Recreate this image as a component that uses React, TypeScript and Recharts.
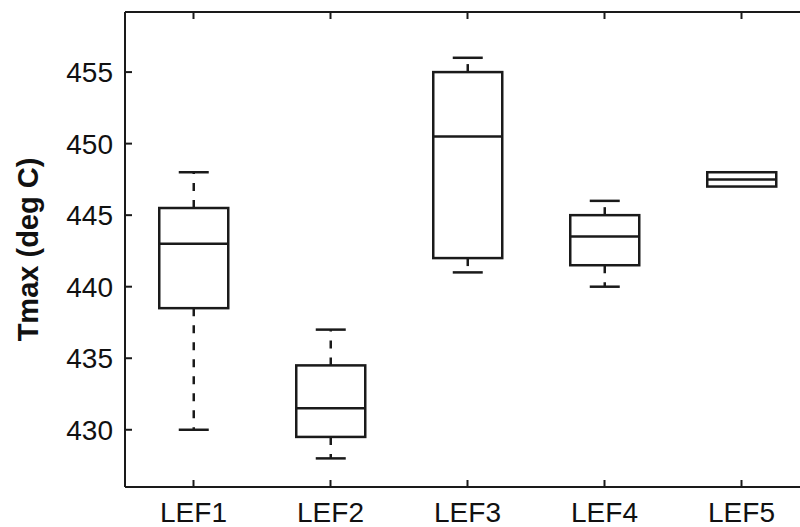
import React from 'react';
import { ComposedChart, Bar, XAxis, YAxis } from 'recharts';

const categories = ['LEF1', 'LEF2', 'LEF3', 'LEF4', 'LEF5'];
const whiskerLow = [430, 428, 441, 440, 447];
const lowerQuartile = [438.5, 429.5, 442, 441.5, 447];
const median = [443, 431.5, 450.5, 443.5, 447.5];
const upperQuartile = [445.5, 434.5, 455, 445, 448];
const whiskerHigh = [448, 437, 456, 446, 448];

const yTicks = [430, 435, 440, 445, 450, 455];
const yDomain = [426, 459.2];

const rows = categories.map((name, i) => ({
  name,
  low: whiskerLow[i],
  q1: lowerQuartile[i],
  med: median[i],
  q3: upperQuartile[i],
  high: whiskerHigh[i],
}));

const FONT = '"Liberation Sans", Arial, Helvetica, sans-serif';
const INK = '#1a1a1a';
const LW = 2.5;

// draws one box-and-whisker from the [low, high] range the Bar hands us
const BoxShape = (props: any) => {
  const { x, y, width, height, payload } = props;
  const { low, q1, med, q3, high } = payload;
  const span = high - low || 1;
  const toPx = (v: number) => y + ((high - v) / span) * height;
  const cx = x + width / 2;
  const cap = 15;
  return (
    <g>
      {high > q3 && (
        <>
          <line x1={cx} x2={cx} y1={toPx(q3)} y2={toPx(high)} stroke={INK} strokeWidth={LW} strokeDasharray="8 9" />
          <line x1={cx - cap} x2={cx + cap} y1={toPx(high)} y2={toPx(high)} stroke={INK} strokeWidth={LW} />
        </>
      )}
      {low < q1 && (
        <>
          <line x1={cx} x2={cx} y1={toPx(q1)} y2={toPx(low)} stroke={INK} strokeWidth={LW} strokeDasharray="8 9" />
          <line x1={cx - cap} x2={cx + cap} y1={toPx(low)} y2={toPx(low)} stroke={INK} strokeWidth={LW} />
        </>
      )}
      <rect x={x} y={toPx(q3)} width={width} height={toPx(q1) - toPx(q3)} fill="#fff" stroke={INK} strokeWidth={LW} />
      <line x1={x} x2={x + width} y1={toPx(med)} y2={toPx(med)} stroke={INK} strokeWidth={LW} />
    </g>
  );
};

const YLabel = (props: any) => {
  const vb = props.viewBox || { y: 12, height: 475 };
  const cy = vb.y + vb.height / 2;
  return (
    <text
      x={28}
      y={cy}
      transform={`rotate(-90, 28, ${cy})`}
      textAnchor="middle"
      dominantBaseline="central"
      fontFamily={FONT}
      fontSize={29}
      fontWeight="bold"
      fill="#111"
    >
      Tmax (deg C)
    </text>
  );
};

const axisStroke = { stroke: INK, strokeWidth: 2 };
const blank = () => '';

export default function App() {
  return (
    <div style={{ position: 'fixed', left: 0, top: 0, width: 800, height: 527, overflow: 'hidden', background: '#fff' }}>
      <ComposedChart
        width={812}
        height={527}
        data={rows}
        margin={{ top: 12, right: 2, bottom: 0, left: 0 }}
        barCategoryGap="25%"
      >
        <XAxis
          dataKey="name"
          height={40}
          interval={0}
          tickLine={false}
          tickMargin={9}
          axisLine={axisStroke}
          tick={{ fontSize: 28, fill: '#111', fontFamily: FONT }}
        />
        {/* inward tick marks on the bottom edge */}
        <XAxis
          xAxisId="bottomTicks"
          dataKey="name"
          mirror
          height={1}
          interval={0}
          tickSize={7}
          tickFormatter={blank}
          axisLine={false}
          tickLine={axisStroke}
        />
        {/* top edge of the frame */}
        <XAxis
          xAxisId="top"
          orientation="top"
          dataKey="name"
          mirror
          height={1}
          interval={0}
          tickSize={7}
          tickFormatter={blank}
          axisLine={axisStroke}
          tickLine={axisStroke}
        />
        <YAxis
          type="number"
          domain={yDomain}
          ticks={yTicks}
          allowDataOverflow
          width={125}
          tickLine={false}
          tickMargin={6}
          axisLine={axisStroke}
          tick={{ fontSize: 28, fill: '#111', fontFamily: FONT }}
          label={<YLabel />}
        />
        {/* inward tick marks on the left edge */}
        <YAxis
          yAxisId="leftTicks"
          type="number"
          domain={yDomain}
          ticks={yTicks}
          allowDataOverflow
          mirror
          width={1}
          tickSize={7}
          tickFormatter={blank}
          axisLine={false}
          tickLine={axisStroke}
        />
        <Bar dataKey={(d: any) => [d.low, d.high]} shape={BoxShape} isAnimationActive={false} />
      </ComposedChart>
    </div>
  );
}
